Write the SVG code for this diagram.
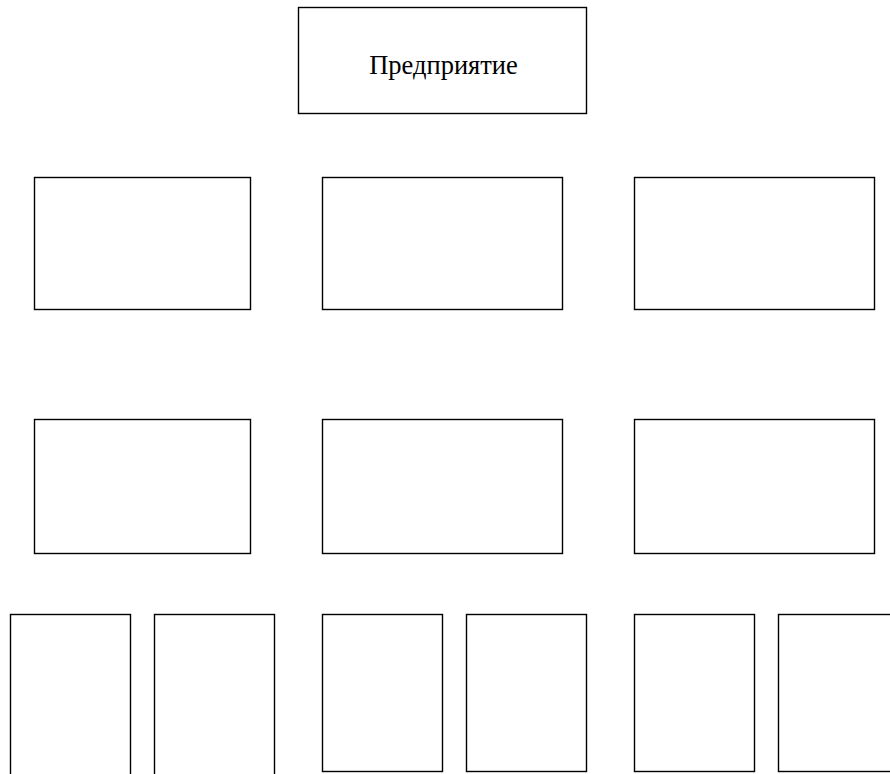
<svg xmlns="http://www.w3.org/2000/svg" width="890" height="774" viewBox="0 0 890 774">
<style>
.box{fill:#fff;stroke:#000;stroke-width:1.4}
.lbl{font-family:"Liberation Serif","Times New Roman",serif;font-size:26.5px;fill:#000;text-anchor:middle}
</style>
<rect width="890" height="774" fill="#fff"/>
<g id="connectors"></g>
<g id="n0"><rect class="box" x="298.5" y="7.5" width="288" height="106"/><text class="lbl" x="443.5" y="74">Предприятие</text></g>
<g id="n1"><rect class="box" x="34.5" y="177.5" width="216" height="132"/></g>
<g id="n2"><rect class="box" x="322.5" y="177.5" width="240" height="132"/></g>
<g id="n3"><rect class="box" x="634.5" y="177.5" width="240" height="132"/></g>
<g id="n4"><rect class="box" x="34.5" y="419.5" width="216" height="134"/></g>
<g id="n5"><rect class="box" x="322.5" y="419.5" width="240" height="134"/></g>
<g id="n6"><rect class="box" x="634.5" y="419.5" width="240" height="134"/></g>
<g id="n7"><rect class="box" x="10.5" y="614.5" width="120" height="170"/></g>
<g id="n8"><rect class="box" x="154.5" y="614.5" width="120" height="170"/></g>
<g id="n9"><rect class="box" x="322.5" y="614.5" width="120" height="157"/></g>
<g id="n10"><rect class="box" x="466.5" y="614.5" width="120" height="157"/></g>
<g id="n11"><rect class="box" x="634.5" y="614.5" width="120" height="157"/></g>
<g id="n12"><rect class="box" x="778.5" y="614.5" width="120" height="157"/></g>
</svg>
